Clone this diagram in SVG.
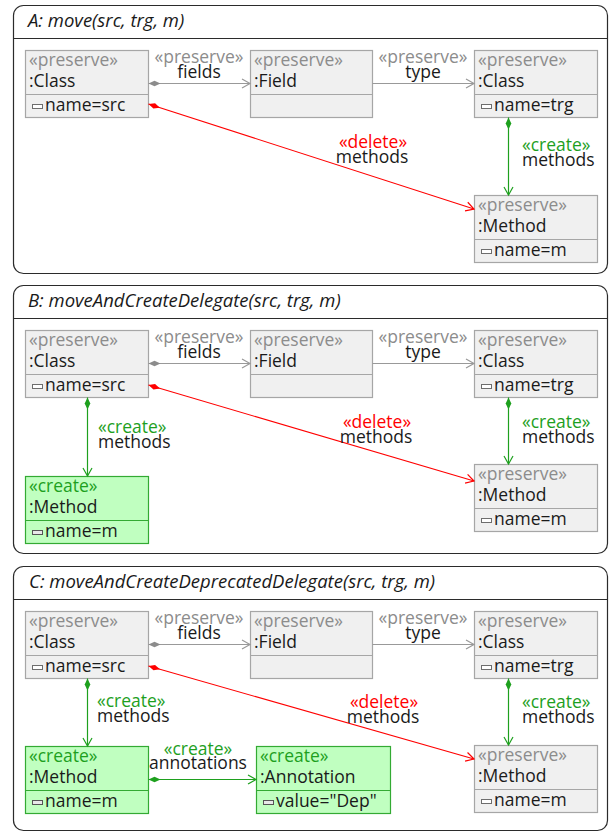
<svg xmlns="http://www.w3.org/2000/svg" width="612" height="834" viewBox="0 0 612 834">
  <style>
    text { font-family: "Open Sans", "Noto Sans", "DejaVu Sans", sans-serif; font-size: 17.5px; fill: #1a1a1a; }
    .title { font-style: italic; font-size: 18.5px; }
    .frame { fill: #ffffff; stroke: #2b2b2b; stroke-width: 1.2; }
    .hdr { stroke: #2b2b2b; stroke-width: 1.2; }
    .pn { fill: #f0f0f0; stroke: #a6a6a6; stroke-width: 1.2; }
    .pd { stroke: #a6a6a6; stroke-width: 1.2; }
    .cn { fill: #c0ffc0; stroke: #33aa33; stroke-width: 1.2; }
    .cd { stroke: #33aa33; stroke-width: 1.2; }
    .ic { fill: #ffffff; stroke: #6e6e6e; stroke-width: 1; }
    .icc { fill: #e8e8e8; stroke: #555555; stroke-width: 1; }
    .sp { fill: #8c8c8c; }
    .sc { fill: #1ea01e; }
    .sd { fill: #ff0000; }
    .mid { text-anchor: middle; }
    .ep { stroke: #999999; stroke-width: 1.2; fill: none; marker-start: url(#dg); marker-end: url(#ag); }
    .ec { stroke: #1ea01e; stroke-width: 1.2; fill: none; marker-start: url(#dgr); marker-end: url(#agr); }
    .ed { stroke: #ff0000; stroke-width: 1.1; fill: none; marker-start: url(#dr); marker-end: url(#ar); }
  </style>
  <defs>
    <marker id="dg" markerUnits="userSpaceOnUse" orient="auto" refX="0" refY="0" markerWidth="14" markerHeight="8" viewBox="-1 -4 14 8" overflow="visible">
      <path d="M0,0 L6,-2.8 L12,0 L6,2.8 z" fill="#8c8c8c"/>
    </marker>
    <marker id="dgr" markerUnits="userSpaceOnUse" orient="auto" refX="0" refY="0" markerWidth="14" markerHeight="8" viewBox="-1 -4 14 8" overflow="visible">
      <path d="M0,0 L6,-2.8 L12,0 L6,2.8 z" fill="#1ea01e"/>
    </marker>
    <marker id="dr" markerUnits="userSpaceOnUse" orient="auto" refX="0" refY="0" markerWidth="14" markerHeight="8" viewBox="-1 -4 14 8" overflow="visible">
      <path d="M0,0 L6,-2.8 L12,0 L6,2.8 z" fill="#ff0000"/>
    </marker>
    <marker id="ag" markerUnits="userSpaceOnUse" orient="auto" refX="0" refY="0" markerWidth="12" markerHeight="12" viewBox="-10 -6 12 12" overflow="visible">
      <path d="M-8,-4.5 L0,0 L-8,4.5" fill="none" stroke="#999999" stroke-width="1.2"/>
    </marker>
    <marker id="agr" markerUnits="userSpaceOnUse" orient="auto" refX="0" refY="0" markerWidth="12" markerHeight="12" viewBox="-10 -6 12 12" overflow="visible">
      <path d="M-8,-4.5 L0,0 L-8,4.5" fill="none" stroke="#1ea01e" stroke-width="1.2"/>
    </marker>
    <marker id="ar" markerUnits="userSpaceOnUse" orient="auto" refX="0" refY="0" markerWidth="12" markerHeight="12" viewBox="-10 -6 12 12" overflow="visible">
      <path d="M-8,-4.5 L0,0 L-8,4.5" fill="none" stroke="#ff0000" stroke-width="1.2"/>
    </marker>
  </defs>

  <!-- Rule A -->
  <g id="ruleA">
    <rect class="frame" x="13.5" y="5.5" width="594" height="268" rx="10"/>
    <line class="hdr" x1="13.5" y1="38.5" x2="607.5" y2="38.5"/>
    <text class="title" x="28" y="27">A: move(src, trg, m)</text>
  </g>
  <g id="a-src">
    <rect class="pn" x="25.5" y="50.5" width="123" height="67"/>
    <line class="pd" x1="25.5" y1="94.5" x2="148.5" y2="94.5"/>
    <text class="sp" x="29" y="66">«preserve»</text>
    <text x="29" y="87">:Class</text>
    <rect class="ic" x="32.5" y="104.5" width="10" height="4"/>
    <text x="45" y="111">name=src</text>
  </g>
  <g id="a-field">
    <rect class="pn" x="250.5" y="50.5" width="122" height="67"/>
    <line class="pd" x1="250.5" y1="94.5" x2="372.5" y2="94.5"/>
    <text class="sp" x="254" y="66">«preserve»</text>
    <text x="254" y="87">:Field</text>
  </g>
  <g id="a-trg">
    <rect class="pn" x="474.5" y="50.5" width="123" height="67"/>
    <line class="pd" x1="474.5" y1="94.5" x2="597.5" y2="94.5"/>
    <text class="sp" x="478" y="66">«preserve»</text>
    <text x="478" y="87">:Class</text>
    <rect class="ic" x="481.5" y="104.5" width="10" height="4"/>
    <text x="494" y="111">name=trg</text>
  </g>
  <g id="a-method">
    <rect class="pn" x="474.5" y="195.5" width="123" height="67"/>
    <line class="pd" x1="474.5" y1="239.5" x2="597.5" y2="239.5"/>
    <text class="sp" x="478" y="211">«preserve»</text>
    <text x="478" y="232">:Method</text>
    <rect class="ic" x="481.5" y="249.5" width="10" height="4"/>
    <text x="494" y="256">name=m</text>
  </g>
  <g id="a-edges">
    <line class="ep" x1="148.5" y1="83.5" x2="250" y2="83.5"/>
    <text class="sp mid" x="199" y="63">«preserve»</text>
    <text class="mid" x="199" y="78">fields</text>
    <line class="ep" x1="372.5" y1="83.5" x2="474" y2="83.5" style="marker-start:none"/>
    <text class="sp mid" x="423" y="63">«preserve»</text>
    <text class="mid" x="423" y="78">type</text>
    <line class="ed" x1="148.5" y1="104" x2="474" y2="209"/>
    <text class="sd mid" x="373" y="148">«delete»</text>
    <text class="mid" x="372" y="163">methods</text>
    <line class="ec" x1="508.5" y1="117.5" x2="508.5" y2="195"/>
    <text class="sc" x="522" y="151">«create»</text>
    <text x="522" y="166">methods</text>
  </g>

  <!-- Rule B -->
  <g id="ruleB">
    <rect class="frame" x="13.5" y="285.5" width="594" height="268" rx="10"/>
    <line class="hdr" x1="13.5" y1="318.5" x2="607.5" y2="318.5"/>
    <text class="title" x="28" y="307">B: moveAndCreateDelegate(src, trg, m)</text>
  </g>
  <g id="b-src">
    <rect class="pn" x="25.5" y="330.5" width="123" height="67"/>
    <line class="pd" x1="25.5" y1="374.5" x2="148.5" y2="374.5"/>
    <text class="sp" x="29" y="346">«preserve»</text>
    <text x="29" y="367">:Class</text>
    <rect class="ic" x="32.5" y="384.5" width="10" height="4"/>
    <text x="45" y="391">name=src</text>
  </g>
  <g id="b-field">
    <rect class="pn" x="250.5" y="330.5" width="122" height="67"/>
    <line class="pd" x1="250.5" y1="374.5" x2="372.5" y2="374.5"/>
    <text class="sp" x="254" y="346">«preserve»</text>
    <text x="254" y="367">:Field</text>
  </g>
  <g id="b-trg">
    <rect class="pn" x="474.5" y="330.5" width="123" height="67"/>
    <line class="pd" x1="474.5" y1="374.5" x2="597.5" y2="374.5"/>
    <text class="sp" x="478" y="346">«preserve»</text>
    <text x="478" y="367">:Class</text>
    <rect class="ic" x="481.5" y="384.5" width="10" height="4"/>
    <text x="494" y="391">name=trg</text>
  </g>
  <g id="b-method">
    <rect class="pn" x="474.5" y="464.5" width="123" height="67"/>
    <line class="pd" x1="474.5" y1="508.5" x2="597.5" y2="508.5"/>
    <text class="sp" x="478" y="480">«preserve»</text>
    <text x="478" y="501">:Method</text>
    <rect class="ic" x="481.5" y="518.5" width="10" height="4"/>
    <text x="494" y="525">name=m</text>
  </g>
  <g id="b-newmethod">
    <rect class="cn" x="25.5" y="476.5" width="123" height="67"/>
    <line class="cd" x1="25.5" y1="520.5" x2="148.5" y2="520.5"/>
    <text class="sc" x="29" y="492">«create»</text>
    <text x="29" y="513">:Method</text>
    <rect class="icc" x="32.5" y="530.5" width="10" height="4"/>
    <text x="45" y="537">name=m</text>
  </g>
  <g id="b-edges">
    <line class="ep" x1="148.5" y1="363.5" x2="250" y2="363.5"/>
    <text class="sp mid" x="199" y="343">«preserve»</text>
    <text class="mid" x="199" y="358">fields</text>
    <line class="ep" x1="372.5" y1="363.5" x2="474" y2="363.5" style="marker-start:none"/>
    <text class="sp mid" x="423" y="343">«preserve»</text>
    <text class="mid" x="423" y="358">type</text>
    <line class="ed" x1="148.5" y1="385" x2="474" y2="481"/>
    <text class="sd mid" x="377" y="428">«delete»</text>
    <text class="mid" x="376" y="443">methods</text>
    <line class="ec" x1="508.5" y1="397.5" x2="508.5" y2="464"/>
    <text class="sc" x="522" y="428">«create»</text>
    <text x="522" y="443">methods</text>
    <line class="ec" x1="87.5" y1="397.5" x2="87.5" y2="476"/>
    <text class="sc" x="98" y="433">«create»</text>
    <text x="98" y="448">methods</text>
  </g>

  <!-- Rule C -->
  <g id="ruleC">
    <rect class="frame" x="13.5" y="566.5" width="594" height="264" rx="10"/>
    <line class="hdr" x1="13.5" y1="599.5" x2="607.5" y2="599.5"/>
    <text class="title" x="29" y="588">C: moveAndCreateDeprecatedDelegate(src, trg, m)</text>
  </g>
  <g id="c-src">
    <rect class="pn" x="25.5" y="611.5" width="123" height="67"/>
    <line class="pd" x1="25.5" y1="655.5" x2="148.5" y2="655.5"/>
    <text class="sp" x="29" y="627">«preserve»</text>
    <text x="29" y="648">:Class</text>
    <rect class="ic" x="32.5" y="665.5" width="10" height="4"/>
    <text x="45" y="672">name=src</text>
  </g>
  <g id="c-field">
    <rect class="pn" x="250.5" y="611.5" width="122" height="67"/>
    <line class="pd" x1="250.5" y1="655.5" x2="372.5" y2="655.5"/>
    <text class="sp" x="254" y="627">«preserve»</text>
    <text x="254" y="648">:Field</text>
  </g>
  <g id="c-trg">
    <rect class="pn" x="474.5" y="611.5" width="123" height="67"/>
    <line class="pd" x1="474.5" y1="655.5" x2="597.5" y2="655.5"/>
    <text class="sp" x="478" y="627">«preserve»</text>
    <text x="478" y="648">:Class</text>
    <rect class="ic" x="481.5" y="665.5" width="10" height="4"/>
    <text x="494" y="672">name=trg</text>
  </g>
  <g id="c-method">
    <rect class="pn" x="474.5" y="745.5" width="123" height="67"/>
    <line class="pd" x1="474.5" y1="789.5" x2="597.5" y2="789.5"/>
    <text class="sp" x="478" y="761">«preserve»</text>
    <text x="478" y="782">:Method</text>
    <rect class="ic" x="481.5" y="799.5" width="10" height="4"/>
    <text x="494" y="806">name=m</text>
  </g>
  <g id="c-newmethod">
    <rect class="cn" x="25.5" y="746.5" width="123" height="67"/>
    <line class="cd" x1="25.5" y1="790.5" x2="148.5" y2="790.5"/>
    <text class="sc" x="29" y="762">«create»</text>
    <text x="29" y="783">:Method</text>
    <rect class="icc" x="32.5" y="800.5" width="10" height="4"/>
    <text x="45" y="807">name=m</text>
  </g>
  <g id="c-annotation">
    <rect class="cn" x="256.5" y="746.5" width="134" height="67"/>
    <line class="cd" x1="256.5" y1="790.5" x2="390.5" y2="790.5"/>
    <text class="sc" x="260" y="762">«create»</text>
    <text x="260" y="783">:Annotation</text>
    <rect class="icc" x="263.5" y="800.5" width="10" height="4"/>
    <text x="276" y="807">value="Dep"</text>
  </g>
  <g id="c-edges">
    <line class="ep" x1="148.5" y1="644.5" x2="250" y2="644.5"/>
    <text class="sp mid" x="199" y="624">«preserve»</text>
    <text class="mid" x="199" y="639">fields</text>
    <line class="ep" x1="372.5" y1="644.5" x2="474" y2="644.5" style="marker-start:none"/>
    <text class="sp mid" x="423" y="624">«preserve»</text>
    <text class="mid" x="423" y="639">type</text>
    <line class="ed" x1="148.5" y1="666" x2="474" y2="759"/>
    <text class="sd mid" x="384" y="708">«delete»</text>
    <text class="mid" x="383" y="723">methods</text>
    <line class="ec" x1="508.5" y1="678.5" x2="508.5" y2="745"/>
    <text class="sc" x="522" y="708">«create»</text>
    <text x="522" y="723">methods</text>
    <line class="ec" x1="87.5" y1="678.5" x2="87.5" y2="746"/>
    <text class="sc" x="97" y="707">«create»</text>
    <text x="97" y="722">methods</text>
    <line class="ec" x1="148.5" y1="779.5" x2="256" y2="779.5"/>
    <text class="sc mid" x="198" y="755">«create»</text>
    <text class="mid" x="198" y="769">annotations</text>
  </g>
</svg>
